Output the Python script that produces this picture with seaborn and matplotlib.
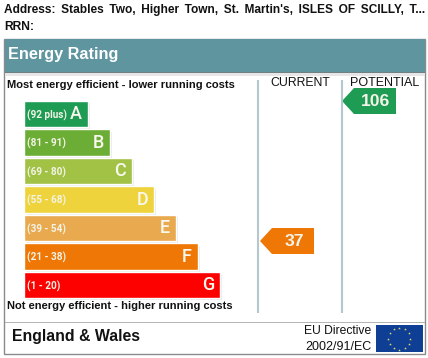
import numpy as np
import pandas as pd
import seaborn as sns
import matplotlib.pyplot as plt
from matplotlib.patches import Polygon, Rectangle
import matplotlib.patheffects as pe

bands = ['A', 'B', 'C', 'D', 'E', 'F', 'G']
ranges = ['(92 plus)', '(81 - 91)', '(69 - 80)', '(55 - 68)', '(39 - 54)', '(21 - 38)', '(1 - 20)']
lengths = [64, 86, 108, 130, 152, 174, 196]
colours = ['#1f9c54', '#6cae35', '#a2c245', '#efd33c', '#e9a94e', '#ee7706', '#fd0000']
current = 37
potential = 106

W, H = 428, 358
sns.set_theme(style='white')
plt.rcParams['font.family'] = ['Liberation Sans', 'DejaVu Sans']
fig = plt.figure(figsize=(W / 100, H / 100), dpi=100, facecolor='white')

# page layer, in pixels
bg = fig.add_axes([0, 0, 1, 1])
bg.set_xlim(0, W)
bg.set_ylim(H, 0)
bg.axis('off')

bg.add_patch(Rectangle((4.5, 38.5), 420.5, 315.5, fc='white', ec='#8a8a8a', lw=1))
bg.add_patch(Rectangle((5, 39), 420, 33, fc='#5f959f', ec='none'))
bg.add_patch(Rectangle((5, 72), 420, 1, fc='#6f7f83', ec='none'))
bg.add_patch(Rectangle((5, 73), 420, 3, fc='#e6e6e6', ec='none'))
bg.add_patch(Rectangle((5, 321.5), 420, 1.5, fc='#b5b5b5', ec='none'))
for x in [258, 342]:
    bg.plot([x, x], [80, 312.5], color='#b5c7cc', lw=1.5, solid_capstyle='butt')

address = "Address: Stables Two, Higher Town, St. Martin's, ISLES OF SCILLY, T..."
bg.text(4, 9.5, address.replace(' ', ' \u2009'),
        fontsize=8.6, fontweight='bold', color='#111111', va='center', ha='left')
bg.text(4, 27, 'RRN:', fontsize=8.75, fontweight='bold', color='#111111', va='center')
bg.text(8, 55, 'Energy Rating', fontsize=11.7, fontweight='bold', color='white', va='center')
bg.text(7.5, 85.5, 'Most energy efficient - lower running costs', fontsize=8.0,
        fontweight='bold', color='#111111', va='center')
bg.text(7.5, 306, 'Not energy efficient - higher running costs', fontsize=8.0,
        fontweight='bold', color='#111111', va='center')
bg.text(300.5, 82.5, 'CURRENT', fontsize=8.8, color='#111111', va='center', ha='center')
bg.text(385, 82.5, 'POTENTIAL', fontsize=9, color='#111111', va='center', ha='center')
bg.text(12, 336.5, 'England & Wales', fontsize=11.4, fontweight='bold', color='#111111', va='center')
bg.text(371.5, 331, 'EU Directive', fontsize=8.7, color='#111111', va='center', ha='right')
bg.text(372, 347, '2002/91/EC', fontsize=9, color='#111111', va='center', ha='right')

# rating arrows
for value, col, tip, right, top, bottom in [(current, colours[5], 260, 314, 228, 254),
                                            (potential, colours[0], 342, 396, 88, 114)]:
    mid = (top + bottom) / 2
    bg.add_patch(Polygon([(tip, mid), (tip + 12, top), (right, top), (right, bottom), (tip + 12, bottom)],
                         fc=col, ec='none'))
    bg.text((tip + 12 + right) / 2 + 1, mid + 0.5, str(value), fontsize=12.6, fontweight='bold',
            color='#f4f4e8', va='center', ha='center')

# EU flag
bg.add_patch(Rectangle((376, 325), 47, 27, fc='#0f3f94', ec='none'))
ang = np.deg2rad(np.arange(0, 360, 30))
bg.scatter(399.5 + 11 * np.cos(ang), 338.5 + 11 * np.sin(ang), marker='*', s=4, color='#e8e070', lw=0)

# the rating bars
df = pd.DataFrame({'band': bands, 'length': lengths})
ax = fig.add_axes([24 / W, 1 - 299.25 / H, 196 / W, 199.5 / H])
ax.patch.set_alpha(0)
sns.barplot(data=df, x='length', y='band', hue='band', palette=colours, legend=False,
            width=0.915, saturation=1, ax=ax)
ax.set_xlim(0, 196)
ax.set_ylim(6.5, -0.5)
ax.axis('off')
for bar in ax.patches:
    bar.set_path_effects([pe.SimplePatchShadow(offset=(1.5, -1.5), shadow_rgbFace='#e2e2e2', alpha=0.7),
                          pe.Normal()])
    bar.set_clip_on(False)
for i, (r, b, l) in enumerate(zip(ranges, bands, lengths)):
    ax.text(3, i + 0.03, r, fontsize=7.2, fontweight='bold', family='Roboto', color='#f3f3e6',
            va='center', ha='left', clip_on=False)
    ax.text(l - 6, i, b, fontsize=13, family='Roboto', fontweight='medium', color='#f8f8ee',
            va='center', ha='right', clip_on=False)

fig.savefig('out.png', dpi=100)
